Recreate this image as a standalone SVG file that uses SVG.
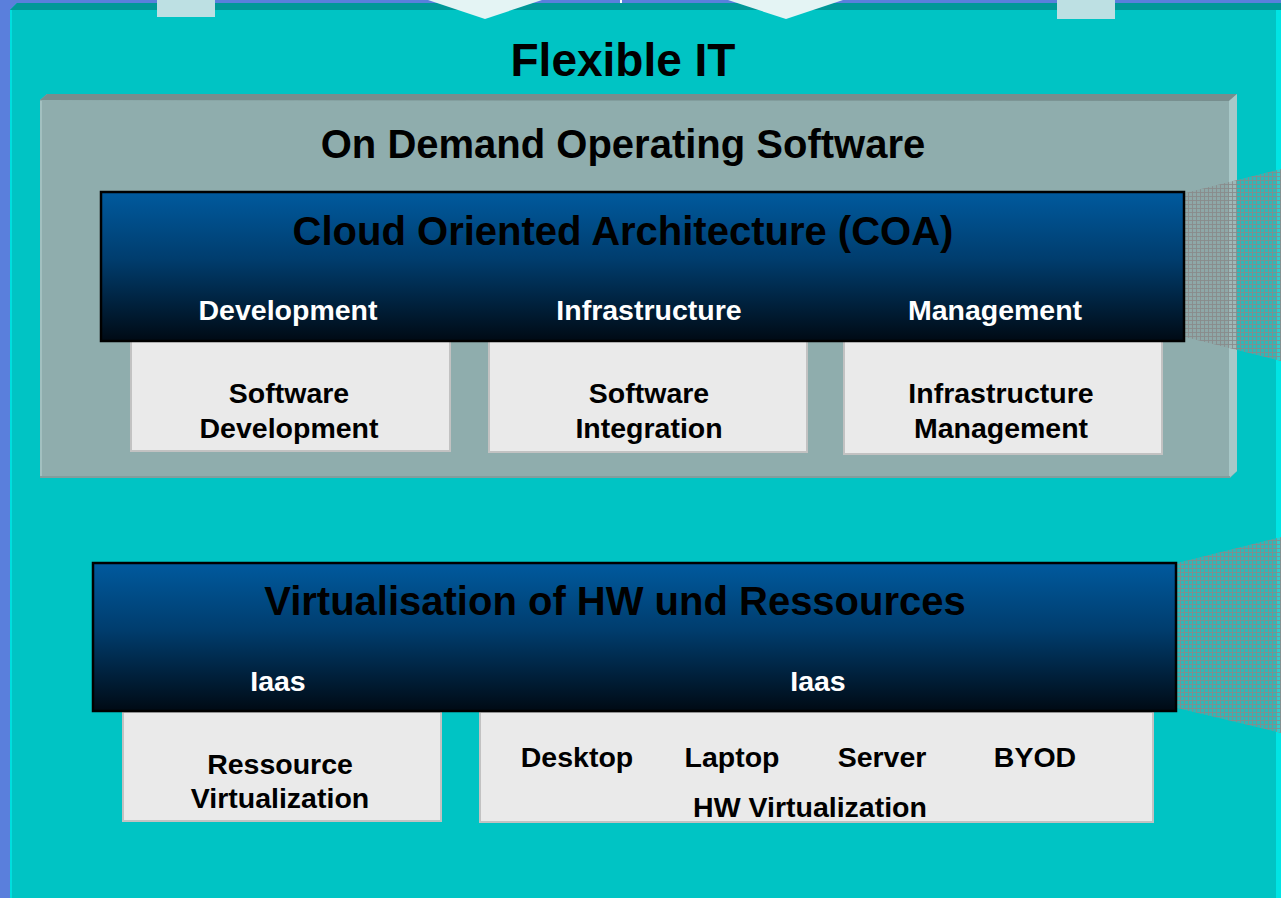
<svg xmlns="http://www.w3.org/2000/svg" width="1281" height="898" viewBox="0 0 1281 898">
<defs>
<linearGradient id="blueGrad" x1="0" y1="0" x2="0" y2="1">
<stop offset="0" stop-color="#005a9e"/>
<stop offset="0.45" stop-color="#003d6e"/>
<stop offset="1" stop-color="#000a14"/>
</linearGradient>
<pattern id="hatch" width="4" height="4" patternUnits="userSpaceOnUse">
<rect width="4" height="4" fill="#8c9c9c" fill-opacity="0.35"/>
<path d="M0 0.5H4M0.5 0V4" stroke="#8a8a8a" stroke-width="1" stroke-opacity="0.85"/>
</pattern>
<style>
text{font-family:"Liberation Sans",Arial,sans-serif;font-weight:bold;text-anchor:middle}
.big{font-size:40px;fill:#000}
.lbl{font-size:28.5px;fill:#fff}
.box{fill:#eaeaea;stroke:#c2c2c2;stroke-width:2}
.txt{font-size:28.5px;fill:#000}
.hdr{fill:url(#blueGrad);stroke:#000;stroke-width:2.5}
.tab{fill:#bde0e3}
.chev{fill:#e4f4f4}
</style>
</defs>
<rect width="1281" height="898" fill="#5a7fdc"/>
<g id="frame">
<polygon points="10,10 17,3 1281,3 1281,898 10,898" fill="#00c4c4"/>
<polygon points="10,10 17,3 1281,3 1281,10" fill="#009898"/>
<rect x="10" y="10" width="2" height="888" fill="#00dede"/>
<rect x="1276" y="10" width="5" height="888" fill="#00e4e4"/>
<rect x="157" y="0" width="58" height="17" class="tab"/>
<rect x="1057" y="0" width="58" height="19" class="tab"/>
<polygon points="428,0 542,0 485,19" class="chev"/>
<polygon points="728,0 843,0 786,19" class="chev"/>
<rect x="620" y="0" width="2" height="3" fill="#fff"/>
<text x="623" y="76" style="font-size:46px">Flexible IT</text>
</g>
<g id="on-demand">
<polygon points="40,100 47,94 1237,94 1237,471 1230,478 40,478" fill="#8fadad"/>
<polygon points="40,100 47,94 1237,94 1229,101" fill="#778e8e"/>
<polygon points="1229,101 1237,94 1237,471 1229,478" fill="#a8c8c8"/>
<rect x="40" y="101" width="2" height="377" fill="#a2c0c0"/>
<rect x="40" y="476" width="1190" height="2" fill="#839d9d"/>
<text x="623" y="158" class="big">On Demand Operating Software</text>
</g>
<g id="decor">
<polygon points="1185,193 1281,169 1281,361 1185,337" fill="url(#hatch)"/>
<polygon points="1177,563 1281,537 1281,733 1177,708" fill="url(#hatch)"/>
</g>
<g id="sw-dev">
<rect x="131" y="341" width="319" height="110" class="box"/>
<text x="289" y="403" class="txt">Software</text>
<text x="289" y="438" class="txt">Development</text>
</g>
<g id="sw-int">
<rect x="489" y="341" width="318" height="111" class="box"/>
<text x="649" y="403" class="txt">Software</text>
<text x="649" y="438" class="txt">Integration</text>
</g>
<g id="infra-mgmt">
<rect x="844" y="341" width="318" height="113" class="box"/>
<text x="1001" y="403" class="txt">Infrastructure</text>
<text x="1001" y="438" class="txt">Management</text>
</g>
<g id="coa">
<rect x="101" y="192" width="1083" height="149" class="hdr"/>
<text x="623" y="245" class="big">Cloud Oriented Architecture (COA)</text>
<text x="288" y="320" class="lbl">Development</text>
<text x="649" y="320" class="lbl">Infrastructure</text>
<text x="995" y="320" class="lbl">Management</text>
</g>
<g id="res-virt">
<rect x="123" y="712" width="318" height="109" class="box"/>
<text x="280" y="774" class="txt">Ressource</text>
<text x="280" y="808" class="txt">Virtualization</text>
</g>
<g id="hw-virt">
<rect x="480" y="712" width="673" height="110" class="box"/>
<text x="577" y="767" class="txt">Desktop</text>
<text x="732" y="767" class="txt">Laptop</text>
<text x="882" y="767" class="txt">Server</text>
<text x="1035" y="767" class="txt">BYOD</text>
<text x="810" y="817" class="txt">HW Virtualization</text>
</g>
<g id="virtualisation">
<rect x="93" y="563" width="1083" height="148" class="hdr"/>
<text x="615" y="615" class="big">Virtualisation of HW und Ressources</text>
<text x="278" y="691" class="lbl">Iaas</text>
<text x="818" y="691" class="lbl">Iaas</text>
</g>
</svg>
